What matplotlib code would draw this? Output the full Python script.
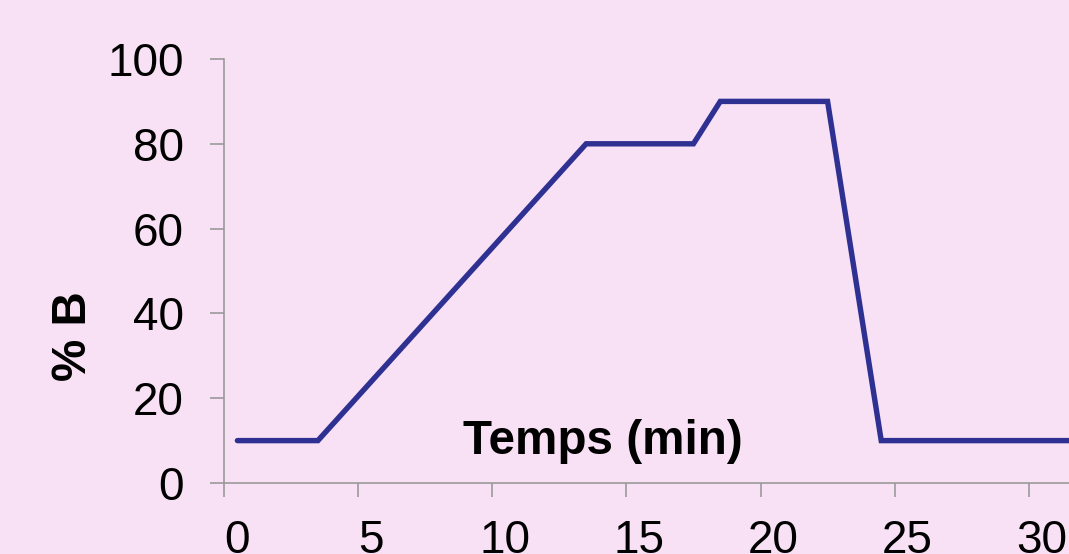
import matplotlib
matplotlib.use("Agg")
import matplotlib.pyplot as plt
from matplotlib.transforms import ScaledTranslation

# Data
time_min = [0.5, 3.5, 13.5, 17.5, 18.5, 22.5, 24.5, 32.0]
pct_b = [10, 10, 80, 80, 90, 90, 10, 10]
x_ticks = [0, 5, 10, 15, 20, 25, 30]
y_ticks = [0, 20, 40, 60, 80, 100]
x_label = "Temps (min)"
y_label = "% B"

bg = "#F8E1F4"
line_color = "#2E3192"
spine_color = "#9A9A9A"

plt.rcParams["font.family"] = ["Liberation Sans", "DejaVu Sans"]

fig = plt.figure(figsize=(10.69, 5.54), dpi=100)
fig.patch.set_facecolor(bg)
ax = fig.add_axes([224 / 1069, 71 / 554, 1 - 224 / 1069, 424 / 554])
ax.set_facecolor(bg)

ax.plot(time_min, pct_b, color=line_color, lw=3.9, solid_capstyle="round",
        solid_joinstyle="miter", clip_on=False)

ax.set_xlim(0, 31.5)
ax.set_ylim(0, 100)
ax.set_xticks(x_ticks)
ax.set_yticks(y_ticks)
for s in ["top", "right"]:
    ax.spines[s].set_visible(False)
for s in ["left", "bottom"]:
    ax.spines[s].set_color(spine_color)
    ax.spines[s].set_linewidth(1.2)

ax.tick_params(axis="both", direction="out", length=10, width=1.2,
               color=spine_color, labelsize=33, labelcolor="black")
ax.tick_params(axis="y", pad=19)
ax.tick_params(axis="x", pad=16)

offset = ScaledTranslation(0.13, 0, fig.dpi_scale_trans)
for lbl in ax.get_xticklabels():
    lbl.set_transform(lbl.get_transform() + offset)

fig.text(603 / 1069, (554 - 441) / 554, x_label, ha="center", va="center",
         fontsize=34.3, fontweight="bold")
fig.text(74 / 1069, (554 - 336) / 554, y_label, ha="center", va="center",
         rotation=90, fontsize=34.3, fontweight="bold")

fig.savefig("out.png", dpi=100, facecolor=bg)
